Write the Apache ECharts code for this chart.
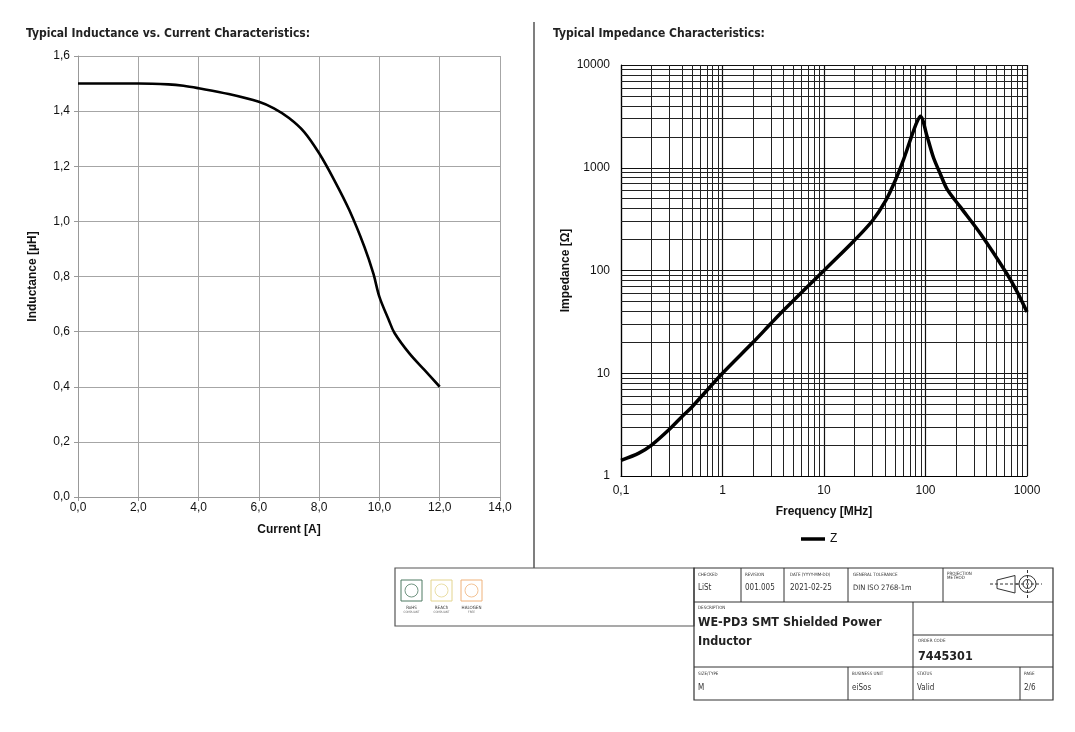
<!DOCTYPE html>
<html>
<head>
<meta charset="utf-8">
<title>WE-PD3 7445301</title>
<script src="https://cdn.jsdelivr.net/npm/echarts@6/dist/echarts.min.js"></script>
<style>
  html, body { margin: 0; padding: 0; background: #fff; }
  #main { width: 1075px; height: 732px; }
</style>
</head>
<body>
<div id="main"></div>
<script>
// inductance vs current (left)
var currentA = [0, 1, 2, 3, 3.5, 4, 5, 6, 6.5, 7, 7.5, 8, 8.5, 9, 9.5, 9.8, 10, 10.3, 10.5, 11, 11.5, 12];
var inductance = [1.5, 1.5, 1.5, 1.497, 1.492, 1.483, 1.462, 1.434, 1.41, 1.375, 1.325, 1.247, 1.15, 1.041, 0.908, 0.81, 0.726, 0.645, 0.595, 0.52, 0.46, 0.40];

// impedance vs frequency (right)
var freqMHz = [0.1, 0.15, 0.2, 0.3, 0.4, 0.5, 1, 2, 3, 4, 10, 20, 30, 40, 50, 60, 70, 80, 89, 104, 120, 140, 163, 220, 347, 631, 800, 1000];
var impedance = [1.42, 1.67, 2.0, 2.85, 3.8, 4.7, 10, 20, 30.5, 41, 100, 197, 305, 467, 740, 1160, 1800, 2600, 3180, 2000, 1250, 870, 620, 416, 229, 93.5, 62, 39.5];

var freqDecades = [0.1, 1, 10, 100];
var impDecades = [1, 10, 100, 1000];

var narrow = "'Liberation Sans Narrow', 'DejaVu Sans Condensed', sans-serif";
var sans = "'Liberation Sans', Arial, sans-serif";

function comma(v, d) {
  return (d == null ? String(v) : v.toFixed(d)).replace('.', ',');
}

// minor log grid (2..9 in every decade)
var minorLines = [];
freqDecades.forEach(function (d) {
  for (var k = 2; k <= 9; k++) minorLines.push({xAxis: +(d * k).toPrecision(3)});
});
impDecades.forEach(function (d) {
  for (var k = 2; k <= 9; k++) minorLines.push({yAxis: d * k});
});

// title block helpers
var blockLines = [];
function rect(x, y, w, h, stroke, lw) {
  blockLines.push({type: 'rect', shape: {x: x, y: y, width: w, height: h},
    style: {fill: 'none', stroke: stroke || '#333', lineWidth: lw || 1}, silent: true});
}
function line(x1, y1, x2, y2, stroke, dash, lw) {
  blockLines.push({type: 'line', shape: {x1: x1, y1: y1, x2: x2, y2: y2},
    style: {stroke: stroke || '#333', lineWidth: lw || 1, lineDash: dash || null}, silent: true});
}
function text(t, x, y, size, bold, color, align) {
  blockLines.push({type: 'text', silent: true, style: {
    text: t, x: x, y: y, fill: color || '#333', align: align || 'left', verticalAlign: 'middle',
    font: (bold ? 'bold ' : '') + size + 'px ' + narrow}});
}

// divider and left box
line(534, 22, 534, 568, '#555', null, 1.5);
rect(395, 568, 299, 58, '#555', 1.2);
// logos
var logos = [
  {x: 401, c: '#4e7a62', t1: 'RoHS', t2: 'COMPLIANT'},
  {x: 431, c: '#e3d48e', t1: 'REACh', t2: 'COMPLIANT'},
  {x: 461, c: '#efb27a', t1: 'HALOGEN', t2: 'FREE'}
];
logos.forEach(function (l) {
  rect(l.x, 580, 21, 21, l.c, 1);
  blockLines.push({type: 'circle', shape: {cx: l.x + 10.5, cy: 590.5, r: 6.5},
    style: {fill: 'none', stroke: l.c, lineWidth: 0.8}, silent: true});
  text(l.t1, l.x + 10.5, 607.5, 4.5, false, '#333', 'center');
  text(l.t2, l.x + 10.5, 612, 3, false, '#666', 'center');
});

// main table
rect(694, 568, 359, 132, '#333', 1.2);
line(694, 602, 1053, 602);
line(694, 667, 1053, 667);
line(741, 568, 741, 602);
line(784, 568, 784, 602);
line(848, 568, 848, 602);
line(943, 568, 943, 602);
line(913, 602, 913, 700);
line(913, 635, 1053, 635);
line(848, 667, 848, 700);
line(1020, 667, 1020, 700);

text('CHECKED', 698, 575, 4.5);
text('LiSt', 698, 588, 8);
text('REVISION', 745, 575, 4.5);
text('001.005', 745, 588, 8);
text('DATE (YYYY-MM-DD)', 790, 575, 4.5);
text('2021-02-25', 790, 588, 8);
text('GENERAL TOLERANCE', 853, 575, 4.5);
text('DIN ISO 2768-1m', 853, 588, 7.5);
text('PROJECTION', 947, 573.5, 4.5);
text('METHOD', 947, 577.5, 4.5);
text('DESCRIPTION', 698, 607.5, 4.5);
text('WE-PD3 SMT Shielded Power', 698, 623, 12.5, true, '#222');
text('Inductor', 698, 642, 12.5, true, '#222');
text('ORDER CODE', 918, 641, 4.5);
text('7445301', 918, 657, 12.5, true, '#222');
text('SIZE/TYPE', 698, 673.5, 4.5);
text('M', 698, 688, 8);
text('BUSINESS UNIT', 852, 673.5, 4.5);
text('eiSos', 852, 688, 8);
text('STATUS', 917, 673.5, 4.5);
text('Valid', 917, 688, 8);
text('PAGE', 1024, 673.5, 4.5);
text('2/6', 1024, 688, 8);

// projection symbol
blockLines.push({type: 'polygon', shape: {points: [[997, 580], [1015, 575.5], [1015, 593], [997, 588.5]]},
  style: {fill: 'none', stroke: '#333', lineWidth: 1}, silent: true});
line(990, 584, 1018, 584, '#333', [3, 2]);
blockLines.push({type: 'circle', shape: {cx: 1027.5, cy: 584, r: 8.5},
  style: {fill: 'none', stroke: '#333', lineWidth: 1}, silent: true});
blockLines.push({type: 'circle', shape: {cx: 1027.5, cy: 584, r: 4.5},
  style: {fill: 'none', stroke: '#333', lineWidth: 1}, silent: true});
line(1016, 584, 1042, 584, '#333', [3, 2]);
line(1027.5, 570, 1027.5, 599, '#333', [3, 2]);

var chart = echarts.init(document.getElementById('main'), null, {renderer: 'canvas'});
chart.setOption({
  animation: false,
  backgroundColor: '#fff',
  title: [
    {text: 'Typical Inductance vs. Current Characteristics:', left: 21, top: 23,
      textStyle: {fontFamily: narrow, fontWeight: 'bold', fontSize: 12, color: '#222'}},
    {text: 'Typical Impedance Characteristics:', left: 548, top: 23,
      textStyle: {fontFamily: narrow, fontWeight: 'bold', fontSize: 12, color: '#222'}}
  ],
  legend: {
    data: [{name: 'Z', icon: 'rect'}], left: 796, top: 528, itemWidth: 24, itemHeight: 3.5, itemGap: 4,
    textStyle: {fontFamily: sans, fontSize: 12, color: '#111'}
  },
  grid: [
    {left: 78, top: 56, width: 422, height: 441},
    {left: 621, top: 65, width: 406, height: 411}
  ],
  xAxis: [
    {
      type: 'value', gridIndex: 0, min: 0, max: 14, interval: 2,
      name: 'Current [A]', nameLocation: 'middle', nameGap: 27,
      nameTextStyle: {fontFamily: sans, fontWeight: 'bold', fontSize: 12, color: '#111'},
      axisLine: {lineStyle: {color: '#999', width: 1}},
      axisTick: {show: true, length: 4, lineStyle: {color: '#999'}},
      axisLabel: {fontFamily: sans, fontSize: 12, color: '#111', margin: 5,
        formatter: function (v) { return comma(v, 1); }},
      splitLine: {show: true, lineStyle: {color: '#a6a6a6', width: 1}}
    },
    {
      type: 'log', gridIndex: 1, logBase: 10, min: 0.1, max: 1000,
      name: 'Frequency [MHz]', nameLocation: 'middle', nameGap: 30,
      nameTextStyle: {fontFamily: sans, fontWeight: 'bold', fontSize: 12, color: '#111'},
      axisLine: {lineStyle: {color: '#000', width: 1.2}},
      axisTick: {show: false},
      axisLabel: {fontFamily: sans, fontSize: 12, color: '#111', margin: 9,
        formatter: function (v) { return comma(+v.toPrecision(3)); }},
      splitLine: {show: true, lineStyle: {color: '#111', width: 1.2}}
    }
  ],
  yAxis: [
    {
      type: 'value', gridIndex: 0, min: 0, max: 1.6, interval: 0.2,
      name: 'Inductance [µH]', nameLocation: 'middle', nameGap: 39,
      nameTextStyle: {fontFamily: sans, fontWeight: 'bold', fontSize: 12, color: '#111'},
      axisLine: {show: true, lineStyle: {color: '#999', width: 1}},
      axisTick: {show: true, length: 4, lineStyle: {color: '#999'}},
      axisLabel: {fontFamily: sans, fontSize: 12, color: '#111', margin: 8,
        formatter: function (v) { return comma(v, 1); }},
      splitLine: {show: true, lineStyle: {color: '#a6a6a6', width: 1}}
    },
    {
      type: 'log', gridIndex: 1, logBase: 10, min: 1, max: 10000,
      name: 'Impedance [Ω]', nameLocation: 'middle', nameGap: 49,
      nameTextStyle: {fontFamily: sans, fontWeight: 'bold', fontSize: 12, color: '#111'},
      axisLine: {show: true, lineStyle: {color: '#000', width: 1.2}},
      axisTick: {show: false},
      axisLabel: {fontFamily: sans, fontSize: 12, color: '#111', margin: 11,
        formatter: function (v) { return String(Math.round(v)); }},
      splitLine: {show: true, lineStyle: {color: '#111', width: 1.2}}
    }
  ],
  series: [
    {
      name: 'L', type: 'line', xAxisIndex: 0, yAxisIndex: 0,
      data: currentA.map(function (x, i) { return [x, inductance[i]]; }),
      smooth: 0.35, symbol: 'none', lineStyle: {color: '#000', width: 2.6}
    },
    {
      name: 'Z', type: 'line', xAxisIndex: 1, yAxisIndex: 1,
      data: freqMHz.map(function (x, i) { return [x, impedance[i]]; }),
      smooth: 0.3, symbol: 'none', z: 5,
      itemStyle: {color: '#000'},
      lineStyle: {color: '#000', width: 3.5},
      markLine: {
        silent: true, symbol: ['none', 'none'], label: {show: false},
        lineStyle: {color: '#222', width: 1, type: 'solid'},
        emphasis: {disabled: true},
        data: minorLines
      }
    }
  ],
  graphic: blockLines
});
</script>
</body>
</html>
